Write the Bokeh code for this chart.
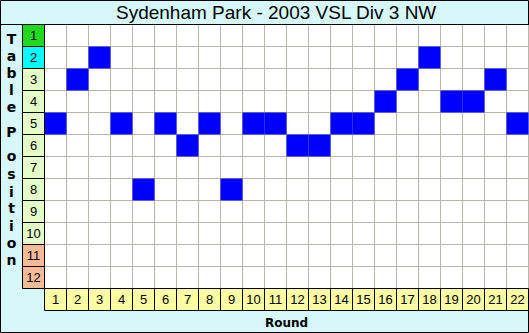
from bokeh.plotting import figure
from bokeh.models import Range1d
from bokeh.embed import file_html
from bokeh.resources import INLINE
from bokeh.core.properties import value

# ---- data ----
title = "Sydenham Park - 2003 VSL Div 3 NW"
rounds = list(range(1, 23))
positions = [5, 3, 2, 5, 8, 5, 6, 5, 8, 5, 5, 6, 6, 5, 5, 4, 3, 2, 4, 4, 3, 5]
table_positions = list(range(1, 13))
position_colors = ["#1fd81f", "#00ffff"] + ["#e4fcc6"] * 8 + ["#f6bb96"] * 2
round_labels = [str(r) for r in rounds]
position_labels = [str(t) for t in table_positions]
axis_letters = list("Table Position")
x_axis_label = "Round"

# ---- layout ----
W, H = 529, 333
CELL = 22
GX0, GY0 = 44, 24
n_r = len(rounds)
n_p = len(table_positions)


def X(px):
    return (px - GX0) / CELL


def Y(py):
    return (py - GY0) / CELL


p = figure(width=W, height=H, x_range=Range1d(X(0), X(W)), y_range=Range1d(Y(H), Y(0)),
           output_backend="svg", toolbar_location=None, min_border=0)
p.axis.visible = False
p.grid.visible = False
p.background_fill_color = "#d6f8fa"
p.border_fill_color = "#d6f8fa"
p.outline_line_color = "black"
p.outline_line_width = 1

# grid area
p.quad(left=[0], right=[n_r], top=[0], bottom=[n_p], fill_color="white", line_color=None)
# gridlines
p.segment(x0=list(range(n_r + 1)), y0=[0] * (n_r + 1), x1=list(range(n_r + 1)), y1=[n_p] * (n_r + 1),
          line_color="#b9b5a9", line_width=1)
p.segment(x0=[0] * (n_p + 1), y0=list(range(n_p + 1)), x1=[n_r] * (n_p + 1), y1=list(range(n_p + 1)),
          line_color="#b9b5a9", line_width=1)

# position cells
p.quad(left=[r - 1 for r in rounds], right=rounds,
       top=[q - 1 for q in positions], bottom=positions,
       fill_color="#0000ff", line_color=None)

# title separator
p.segment(x0=[X(0)], y0=[0], x1=[X(W)], y1=[0], line_color="black", line_width=1)

# left label cells
p.quad(left=[-1] * n_p, right=[0] * n_p, top=[t - 1 for t in table_positions], bottom=table_positions,
       fill_color=position_colors, line_color="black", line_width=1)
p.text(x=[-0.5] * n_p, y=[t - 0.5 for t in table_positions], text=position_labels,
       text_align="center", text_baseline="middle", text_font=value("Liberation Sans"),
       text_font_size="13px", text_color="black")

# bottom round cells
p.quad(left=[r - 1 for r in rounds], right=rounds, top=[n_p] * n_r, bottom=[n_p + 1] * n_r,
       fill_color="#fcfca2", line_color="black", line_width=1)
p.text(x=[r - 0.5 for r in rounds], y=[n_p + 0.5] * n_r, text=round_labels,
       text_align="center", text_baseline="middle", text_font=value("Liberation Sans"),
       text_font_size="13px", text_color="black")

# title
p.text(x=[X(276)], y=[Y(12)], text=[title], text_align="center", text_baseline="middle",
       text_font=value("Liberation Sans"), text_font_size="19px", text_color="black")

# x label
p.text(x=[X(286)], y=[Y(322)], text=[x_axis_label], text_align="center", text_baseline="middle",
       text_font=value("DejaVu Sans"), text_font_size="12px", text_font_style="bold", text_color="black")

# vertical letters
letter_baselines = [38, 55, 72, 89, 106, 118, 131, 155, 173, 191, 207, 225, 242, 259]
lx, ly, lt = [], [], []
for ch, b in zip(axis_letters, letter_baselines):
    if ch.strip():
        lx.append(X(11))
        ly.append(Y(b))
        lt.append(ch)
p.text(x=lx, y=ly, text=lt, text_align="center", text_baseline="alphabetic",
       text_font=value("DejaVu Sans"), text_font_size="14px", text_font_style="bold", text_color="black")

open("out.html", "w").write(file_html(p, INLINE))
